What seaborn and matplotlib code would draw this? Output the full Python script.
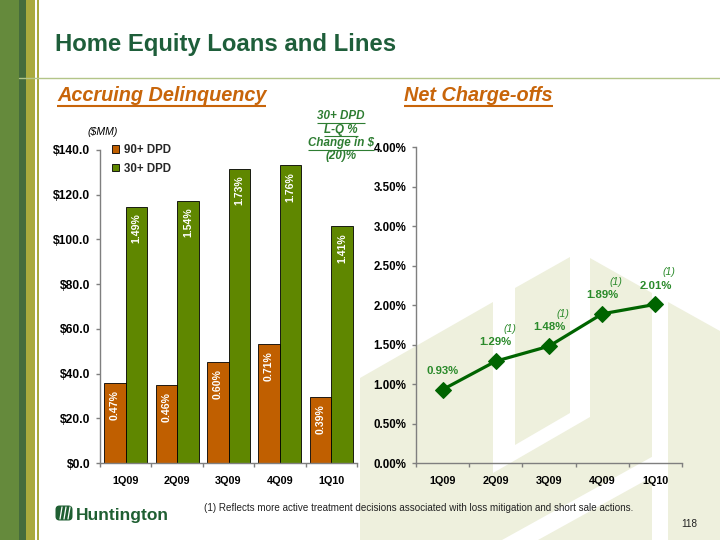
import matplotlib
matplotlib.use("Agg")
import matplotlib.pyplot as plt
import seaborn as sns
import pandas as pd
from matplotlib.patches import Polygon, Rectangle, FancyBboxPatch
from matplotlib.lines import Line2D
from matplotlib.ticker import FuncFormatter

# ---------------- data ----------------
quarters = ["1Q09", "2Q09", "3Q09", "4Q09", "1Q10"]
series_names = ["90+ DPD", "30+ DPD"]
dpd90 = [35.7, 35.0, 45.1, 53.2, 29.4]
dpd30 = [114.6, 117.4, 131.6, 133.3, 105.8]
dpd90_pct = ["0.47%", "0.46%", "0.60%", "0.71%", "0.39%"]
dpd30_pct = ["1.49%", "1.54%", "1.73%", "1.76%", "1.41%"]
nco = [0.93, 1.29, 1.48, 1.89, 2.01]
nco_labels = ["0.93%", "1.29%", "1.48%", "1.89%", "2.01%"]
nco_notes = ["", "(1)", "(1)", "(1)", "(1)"]
left_ticks = [0, 20, 40, 60, 80, 100, 120, 140]
right_ticks = [0.0, 0.5, 1.0, 1.5, 2.0, 2.5, 3.0, 3.5, 4.0]
title = "Home Equity Loans and Lines"
left_sub = "Accruing Delinquency"
right_sub = "Net Charge-offs"
note_lines = ["30+ DPD", "L-Q %", "Change in $", "(20)%"]
units = "($MM)"
footnote = "(1) Reflects more active treatment decisions associated with loss mitigation and short sale actions."
page = "118"
brand = "Huntington"

# ---------------- style ----------------
sns.set_theme(style="white")
plt.rcParams["font.family"] = ["Liberation Sans", "DejaVu Sans"]

W, H = 720, 540
C_ORANGE = "#c05f00"
C_OLIVE = "#5f8700"
C_LINE = "#006400"
C_LABEL = "#2a8a2a"
C_TITLE = "#1e5e3a"
C_SUB = "#c8650a"
C_WM = "#eef0dd"
C_AX = "#7f7f7f"

fig = plt.figure(figsize=(7.2, 5.4), dpi=100)
fig.patch.set_facecolor("white")

# background / decoration axes in pixel coordinates
bg = fig.add_axes([0, 0, 1, 1], zorder=0)
bg.set_xlim(0, W)
bg.set_ylim(H, 0)
bg.axis("off")

# left stripes
bg.add_patch(Rectangle((0, 0), 19, H, color="#658a3c", lw=0))
bg.add_patch(Rectangle((19, 0), 7, H, color="#456c3c", lw=0))
bg.add_patch(Rectangle((26, 0), 9, H, color="#a9aa3d", lw=0))
bg.add_patch(Rectangle((37, 0), 2, H, color="#a9aa3d", lw=0))
bg.add_line(Line2D([19, W], [78, 78], color="#b3c589", lw=1.0))

# watermark shapes
wm_polys = [
    [(360, 378), (493, 302), (493, 540), (360, 540)],
    [(515, 288), (570, 257), (570, 413), (515, 445)],
    [(493, 473), (590, 417), (590, 258), (652, 293), (652, 540), (493, 540)],
    [(668, 302), (720, 331), (720, 540), (668, 540)],
]
for p in wm_polys:
    bg.add_patch(Polygon(p, closed=True, color=C_WM, lw=0))
bg.add_patch(Polygon([(502, 540), (668, 448), (668, 468), (538, 540)], closed=True, color="white", lw=0))

# texts
def px_text(x, y, s, **kw):
    return bg.text(x, y, s, **kw)

def underline(t, color, lw, off):
    fig.canvas.draw()
    bb = t.get_window_extent()
    y = bb.y0 - off
    fig.add_artist(Line2D([bb.x0 / W, bb.x1 / W], [y / H, y / H], transform=fig.transFigure,
                          color=color, lw=lw, solid_capstyle="butt"))

px_text(55, 51, title, fontsize=17.2, fontweight="bold", color=C_TITLE, va="baseline")
t1 = px_text(57, 101, left_sub, fontsize=14.3, fontweight="bold", style="italic", color=C_SUB, va="baseline")
t2 = px_text(404, 101, right_sub, fontsize=14.3, fontweight="bold", style="italic", color=C_SUB, va="baseline")
note_base = [119, 132.5, 146, 159.5]
note_texts = []
for s, yb in zip(note_lines, note_base):
    note_texts.append(px_text(341, yb, s, fontsize=8.4, fontweight="bold", style="italic",
                              color="#2e7d32", ha="center", va="baseline"))
px_text(103, 135, units, fontsize=7.6, style="italic", color="black", ha="center", va="baseline")
px_text(204, 511, footnote, fontsize=7.1, color="#222222", va="baseline")
px_text(697, 527, page, fontsize=7.2, color="#222222", ha="right", va="baseline")
px_text(76, 520, brand, fontsize=12.5, fontweight="bold", color="#1f5f32", va="baseline")
bg.add_patch(FancyBboxPatch((56, 506), 16, 14, boxstyle="round,pad=0.5,rounding_size=4",
                            color="#1f5f32", lw=0))
for xa, xb in [(60, 62), (64, 66), (68, 70)]:
    bg.add_line(Line2D([xa, xb], [519, 507], color="white", lw=0.9))

# ---------------- left chart: bars ----------------
ax1 = fig.add_axes([100 / W, 1 - 463 / H, 257 / W, 313 / H], zorder=2)
ax1.patch.set_alpha(0)
df = pd.DataFrame({
    "quarter": quarters * 2,
    "value": dpd90 + dpd30,
    "series": [series_names[0]] * 5 + [series_names[1]] * 5,
})
sns.barplot(data=df, x="quarter", y="value", hue="series", hue_order=series_names,
            palette=[C_ORANGE, C_OLIVE], width=0.84, edgecolor="black", linewidth=0.6,
            ax=ax1, legend=False, saturation=1)
ax1.set_ylim(0, 140)
ax1.set_xlim(-0.5, len(quarters) - 0.5)
ax1.set_yticks(left_ticks)
ax1.yaxis.set_major_formatter(FuncFormatter(lambda v, p: f"${v:.1f}"))
for cont, labs in zip(ax1.containers, [dpd90_pct, dpd30_pct]):
    for patch, lab in zip(cont.patches, labs):
        ax1.annotate(lab, (patch.get_x() + patch.get_width() / 2, patch.get_height()),
                     xytext=(0, -5), textcoords="offset points", ha="center", va="top",
                     rotation=90, color="white", fontsize=7.6, fontweight="bold")
handles = [Rectangle((0, 0), 1, 1, facecolor=c, edgecolor="black", lw=0.6) for c in [C_ORANGE, C_OLIVE]]
ax1.legend(handles, series_names, loc="upper left", bbox_to_anchor=(0.045, 1.02), frameon=False,
           handlelength=0.65, handleheight=0.65, handletextpad=0.45, labelspacing=0.6,
           borderpad=0, borderaxespad=0, prop={"weight": "bold", "size": 8.3})

# ---------------- right chart: line ----------------
ax2 = fig.add_axes([416 / W, 1 - 463 / H, 266 / W, (463 - 147.3) / H], zorder=2)
ax2.patch.set_alpha(0)
dfl = pd.DataFrame({"quarter": quarters, "nco": nco})
sns.lineplot(data=dfl, x="quarter", y="nco", sort=False, color=C_LINE, lw=2.3, marker="D",
             markersize=8.5, markeredgecolor=C_LINE, markerfacecolor=C_LINE, ax=ax2)
ax2.set_ylim(0, 4)
ax2.set_xlim(-0.5, len(quarters) - 0.5)
ax2.set_yticks(right_ticks)
ax2.yaxis.set_major_formatter(FuncFormatter(lambda v, p: f"{v:.2f}%"))
for i, (v, lab, nt) in enumerate(zip(nco, nco_labels, nco_notes)):
    ax2.annotate(lab, (i, v), xytext=(0, 13.5), textcoords="offset points", ha="center", va="center",
                 color=C_LABEL, fontsize=8.2, fontweight="bold")
    if nt:
        ax2.annotate(nt, (i, v), xytext=(10, 23), textcoords="offset points", ha="center", va="center",
                     color=C_LABEL, fontsize=7.6, style="italic")

for ax, ysz in ((ax1, 8.7), (ax2, 8.3)):
    ax.set_xlabel("")
    ax.set_ylabel("")
    for s in ("top", "right"):
        ax.spines[s].set_visible(False)
    for s in ("left", "bottom"):
        ax.spines[s].set_color(C_AX)
        ax.spines[s].set_linewidth(1.0)
    ax.set_xticks(range(len(quarters)))
    ax.set_xticklabels(quarters)
    ax.set_xticks([i - 0.5 for i in range(len(quarters) + 1)], minor=True)
    ax.tick_params(axis="x", which="major", length=0, pad=9, labelsize=7.8)
    ax.tick_params(axis="x", which="minor", length=3, width=1, color=C_AX, direction="out", bottom=True)
    ax.tick_params(axis="y", which="major", length=3, width=1, color=C_AX, direction="out", left=True,
                   pad=4, labelsize=ysz)
    for lab in ax.get_xticklabels() + ax.get_yticklabels():
        lab.set_fontweight("bold")
        lab.set_color("black")
    ax.grid(False)

# underlines
underline(t1, C_SUB, 1.5, 1)
underline(t2, C_SUB, 1.5, 1)
for t in note_texts[:3]:
    underline(t, "#2e7d32", 0.8, 0.5)

fig.savefig("out.png", dpi=100)
